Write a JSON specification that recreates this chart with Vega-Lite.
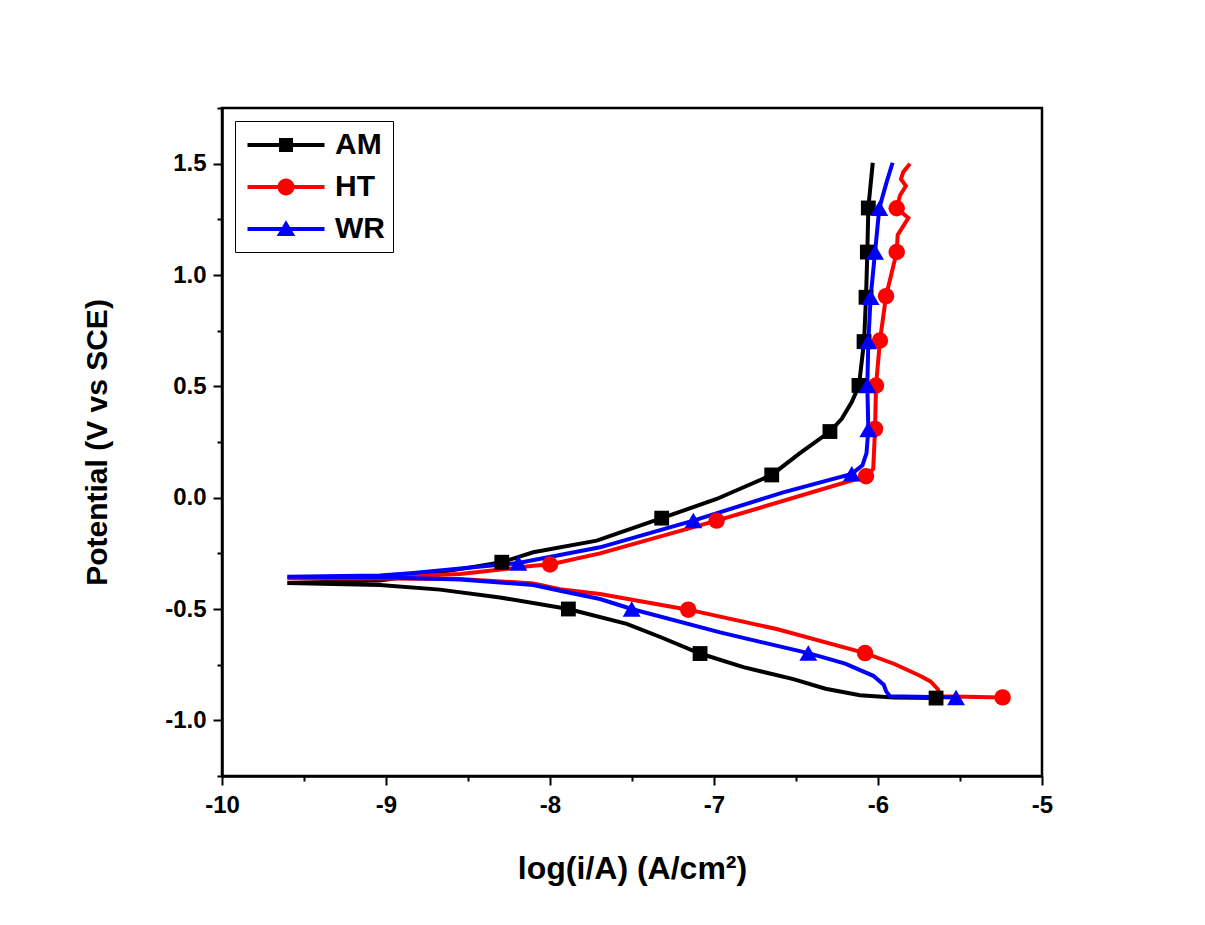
{
  "$schema": "https://vega.github.io/schema/vega-lite/v6.json",
  "width": 820,
  "height": 668,
  "autosize": "none",
  "padding": {"left": 222, "top": 108, "right": 163, "bottom": 149},
  "background": "white",
  "config": {
    "font": "Liberation Sans",
    "view": {"stroke": "black", "strokeWidth": 2.5},
    "axis": {
      "grid": false,
      "domainColor": "black",
      "domainWidth": 2.5,
      "tickColor": "black",
      "tickWidth": 2,
      "labelFont": "Liberation Sans",
      "labelFontSize": 24,
      "labelFontWeight": "bold",
      "labelColor": "black",
      "titleFont": "Liberation Sans",
      "titleFontWeight": "bold",
      "titleColor": "black",
      "labelFlush": false,
      "labelOverlap": false,
      "labelBound": false
    }
  },
  "datasets": {
    "curves": [
      {"series": "AM", "i": 0, "logi": -5.646, "E": -0.900},
      {"series": "AM", "i": 1, "logi": -5.907, "E": -0.897},
      {"series": "AM", "i": 2, "logi": -6.110, "E": -0.887},
      {"series": "AM", "i": 3, "logi": -6.320, "E": -0.858},
      {"series": "AM", "i": 4, "logi": -6.516, "E": -0.815},
      {"series": "AM", "i": 5, "logi": -6.821, "E": -0.761},
      {"series": "AM", "i": 6, "logi": -7.085, "E": -0.700},
      {"series": "AM", "i": 7, "logi": -7.320, "E": -0.628},
      {"series": "AM", "i": 8, "logi": -7.532, "E": -0.567},
      {"series": "AM", "i": 9, "logi": -7.888, "E": -0.500},
      {"series": "AM", "i": 10, "logi": -8.305, "E": -0.448},
      {"series": "AM", "i": 11, "logi": -8.671, "E": -0.413},
      {"series": "AM", "i": 12, "logi": -9.037, "E": -0.392},
      {"series": "AM", "i": 13, "logi": -9.602, "E": -0.383},
      {"series": "AM", "i": 14, "logi": -9.037, "E": -0.372},
      {"series": "AM", "i": 15, "logi": -8.549, "E": -0.321},
      {"series": "AM", "i": 16, "logi": -8.294, "E": -0.290},
      {"series": "AM", "i": 17, "logi": -8.102, "E": -0.245},
      {"series": "AM", "i": 18, "logi": -7.715, "E": -0.193},
      {"series": "AM", "i": 19, "logi": -7.319, "E": -0.092},
      {"series": "AM", "i": 20, "logi": -6.984, "E": -0.006},
      {"series": "AM", "i": 21, "logi": -6.648, "E": 0.102},
      {"series": "AM", "i": 22, "logi": -6.476, "E": 0.200},
      {"series": "AM", "i": 23, "logi": -6.293, "E": 0.297},
      {"series": "AM", "i": 24, "logi": -6.221, "E": 0.354},
      {"series": "AM", "i": 25, "logi": -6.160, "E": 0.429},
      {"series": "AM", "i": 26, "logi": -6.116, "E": 0.504},
      {"series": "AM", "i": 27, "logi": -6.085, "E": 0.701},
      {"series": "AM", "i": 28, "logi": -6.073, "E": 0.900},
      {"series": "AM", "i": 29, "logi": -6.065, "E": 1.103},
      {"series": "AM", "i": 30, "logi": -6.059, "E": 1.301},
      {"series": "AM", "i": 31, "logi": -6.032, "E": 1.504},
      {"series": "HT", "i": 0, "logi": -5.240, "E": -0.897},
      {"series": "HT", "i": 1, "logi": -5.622, "E": -0.892},
      {"series": "HT", "i": 2, "logi": -5.635, "E": -0.860},
      {"series": "HT", "i": 3, "logi": -5.680, "E": -0.825},
      {"series": "HT", "i": 4, "logi": -5.744, "E": -0.800},
      {"series": "HT", "i": 5, "logi": -5.900, "E": -0.747},
      {"series": "HT", "i": 6, "logi": -6.079, "E": -0.698},
      {"series": "HT", "i": 7, "logi": -6.618, "E": -0.590},
      {"series": "HT", "i": 8, "logi": -7.157, "E": -0.503},
      {"series": "HT", "i": 9, "logi": -7.695, "E": -0.433},
      {"series": "HT", "i": 10, "logi": -7.939, "E": -0.411},
      {"series": "HT", "i": 11, "logi": -8.102, "E": -0.385},
      {"series": "HT", "i": 12, "logi": -8.549, "E": -0.365},
      {"series": "HT", "i": 13, "logi": -9.037, "E": -0.363},
      {"series": "HT", "i": 14, "logi": -9.602, "E": -0.362},
      {"series": "HT", "i": 15, "logi": -9.037, "E": -0.358},
      {"series": "HT", "i": 16, "logi": -8.549, "E": -0.343},
      {"series": "HT", "i": 17, "logi": -8.102, "E": -0.306},
      {"series": "HT", "i": 18, "logi": -8.000, "E": -0.300},
      {"series": "HT", "i": 19, "logi": -7.695, "E": -0.250},
      {"series": "HT", "i": 20, "logi": -6.984, "E": -0.103},
      {"series": "HT", "i": 21, "logi": -6.073, "E": 0.096},
      {"series": "HT", "i": 22, "logi": -6.029, "E": 0.129},
      {"series": "HT", "i": 23, "logi": -6.018, "E": 0.309},
      {"series": "HT", "i": 24, "logi": -6.012, "E": 0.504},
      {"series": "HT", "i": 25, "logi": -5.988, "E": 0.706},
      {"series": "HT", "i": 26, "logi": -5.951, "E": 0.905},
      {"series": "HT", "i": 27, "logi": -5.886, "E": 1.103},
      {"series": "HT", "i": 28, "logi": -5.880, "E": 1.180},
      {"series": "HT", "i": 29, "logi": -5.815, "E": 1.256},
      {"series": "HT", "i": 30, "logi": -5.886, "E": 1.300},
      {"series": "HT", "i": 31, "logi": -5.866, "E": 1.357},
      {"series": "HT", "i": 32, "logi": -5.830, "E": 1.400},
      {"series": "HT", "i": 33, "logi": -5.860, "E": 1.430},
      {"series": "HT", "i": 34, "logi": -5.846, "E": 1.463},
      {"series": "HT", "i": 35, "logi": -5.805, "E": 1.500},
      {"series": "WR", "i": 0, "logi": -5.524, "E": -0.897},
      {"series": "WR", "i": 1, "logi": -5.927, "E": -0.892},
      {"series": "WR", "i": 2, "logi": -5.950, "E": -0.870},
      {"series": "WR", "i": 3, "logi": -5.965, "E": -0.840},
      {"series": "WR", "i": 4, "logi": -6.029, "E": -0.800},
      {"series": "WR", "i": 5, "logi": -6.200, "E": -0.745},
      {"series": "WR", "i": 6, "logi": -6.425, "E": -0.698},
      {"series": "WR", "i": 7, "logi": -6.963, "E": -0.605},
      {"series": "WR", "i": 8, "logi": -7.502, "E": -0.500},
      {"series": "WR", "i": 9, "logi": -7.695, "E": -0.455},
      {"series": "WR", "i": 10, "logi": -7.939, "E": -0.418},
      {"series": "WR", "i": 11, "logi": -8.102, "E": -0.392},
      {"series": "WR", "i": 12, "logi": -8.549, "E": -0.367},
      {"series": "WR", "i": 13, "logi": -9.037, "E": -0.357},
      {"series": "WR", "i": 14, "logi": -9.602, "E": -0.355},
      {"series": "WR", "i": 15, "logi": -9.037, "E": -0.350},
      {"series": "WR", "i": 16, "logi": -8.833, "E": -0.338},
      {"series": "WR", "i": 17, "logi": -8.193, "E": -0.293},
      {"series": "WR", "i": 18, "logi": -7.695, "E": -0.223},
      {"series": "WR", "i": 19, "logi": -7.126, "E": -0.103},
      {"series": "WR", "i": 20, "logi": -6.578, "E": 0.024},
      {"series": "WR", "i": 21, "logi": -6.160, "E": 0.107},
      {"series": "WR", "i": 22, "logi": -6.095, "E": 0.145},
      {"series": "WR", "i": 23, "logi": -6.070, "E": 0.200},
      {"series": "WR", "i": 24, "logi": -6.059, "E": 0.306},
      {"series": "WR", "i": 25, "logi": -6.065, "E": 0.504},
      {"series": "WR", "i": 26, "logi": -6.059, "E": 0.701},
      {"series": "WR", "i": 27, "logi": -6.045, "E": 0.900},
      {"series": "WR", "i": 28, "logi": -6.018, "E": 1.103},
      {"series": "WR", "i": 29, "logi": -5.992, "E": 1.300},
      {"series": "WR", "i": 30, "logi": -5.947, "E": 1.418},
      {"series": "WR", "i": 31, "logi": -5.911, "E": 1.504}
    ],
    "markers": [
      {"series": "AM", "logi": -5.646, "E": -0.900},
      {"series": "AM", "logi": -7.085, "E": -0.700},
      {"series": "AM", "logi": -7.888, "E": -0.500},
      {"series": "AM", "logi": -8.294, "E": -0.290},
      {"series": "AM", "logi": -7.319, "E": -0.092},
      {"series": "AM", "logi": -6.648, "E": 0.102},
      {"series": "AM", "logi": -6.293, "E": 0.297},
      {"series": "AM", "logi": -6.116, "E": 0.504},
      {"series": "AM", "logi": -6.085, "E": 0.701},
      {"series": "AM", "logi": -6.073, "E": 0.900},
      {"series": "AM", "logi": -6.065, "E": 1.103},
      {"series": "AM", "logi": -6.059, "E": 1.301},
      {"series": "HT", "logi": -5.240, "E": -0.897},
      {"series": "HT", "logi": -6.079, "E": -0.698},
      {"series": "HT", "logi": -7.157, "E": -0.503},
      {"series": "HT", "logi": -8.000, "E": -0.300},
      {"series": "HT", "logi": -6.984, "E": -0.103},
      {"series": "HT", "logi": -6.073, "E": 0.096},
      {"series": "HT", "logi": -6.018, "E": 0.309},
      {"series": "HT", "logi": -6.012, "E": 0.504},
      {"series": "HT", "logi": -5.988, "E": 0.706},
      {"series": "HT", "logi": -5.951, "E": 0.905},
      {"series": "HT", "logi": -5.886, "E": 1.103},
      {"series": "HT", "logi": -5.886, "E": 1.300},
      {"series": "WR", "logi": -5.524, "E": -0.897},
      {"series": "WR", "logi": -6.425, "E": -0.698},
      {"series": "WR", "logi": -7.502, "E": -0.500},
      {"series": "WR", "logi": -8.193, "E": -0.293},
      {"series": "WR", "logi": -7.126, "E": -0.103},
      {"series": "WR", "logi": -6.160, "E": 0.107},
      {"series": "WR", "logi": -6.059, "E": 0.306},
      {"series": "WR", "logi": -6.065, "E": 0.504},
      {"series": "WR", "logi": -6.059, "E": 0.701},
      {"series": "WR", "logi": -6.045, "E": 0.900},
      {"series": "WR", "logi": -6.018, "E": 1.103},
      {"series": "WR", "logi": -5.992, "E": 1.300}
    ]
  },
  "encoding": {
    "x": {
      "field": "logi",
      "type": "quantitative",
      "scale": {"domain": [-10, -5], "nice": false, "zero": false},
      "axis": {
        "title": "log(i/A) (A/cm²)",
        "values": [-10, -9.5, -9, -8.5, -8, -7.5, -7, -6.5, -6, -5.5, -5],
        "labelExpr": "datum.value % 1 === 0 ? '' + datum.value : ''",
        "tickSize": {"condition": {"test": "datum.value % 1 === 0", "value": 9}, "value": 5},
        "labelPadding": 8,
        "titleFontSize": 32,
        "titlePadding": 36
      }
    },
    "y": {
      "field": "E",
      "type": "quantitative",
      "scale": {"domain": [-1.25, 1.75], "nice": false, "zero": false},
      "axis": {
        "title": "Potential (V vs SCE)",
        "values": [-1.25, -1, -0.75, -0.5, -0.25, 0, 0.25, 0.5, 0.75, 1, 1.25, 1.5, 1.75],
        "labelExpr": "datum.value % 0.5 === 0 ? replace(format(datum.value, '.1f'), '−', '-') : ''",
        "tickSize": {"condition": {"test": "datum.value % 0.5 === 0", "value": 9}, "value": 5},
        "labelPadding": 7,
        "titleFontSize": 30,
        "titlePadding": 52
      }
    },
    "color": {
      "field": "series",
      "type": "nominal",
      "scale": {"domain": ["AM", "HT", "WR"], "range": ["#000000", "#ff0000", "#0000ff"]},
      "legend": null
    }
  },
  "resolve": {"scale": {"shape": "independent", "size": "independent"}, "legend": {"color": "independent", "shape": "independent"}},
  "layer": [
    {
      "data": {"name": "curves"},
      "mark": {"type": "line", "strokeWidth": 4},
      "encoding": {"order": {"field": "i", "type": "quantitative"}}
    },
    {
      "data": {"name": "markers"},
      "mark": {"type": "point", "filled": true, "opacity": 1},
      "encoding": {
        "shape": {"field": "series", "type": "nominal", "scale": {"domain": ["AM", "HT", "WR"], "range": ["square", "circle", "triangle-up"]}, "legend": null},
        "size": {"field": "series", "type": "nominal", "scale": {"domain": ["AM", "HT", "WR"], "range": [220, 320, 300]}, "legend": null}
      }
    },
    {
      "data": {"name": "markers"},
      "transform": [{"filter": "datum.E > 100"}],
      "mark": {"type": "point", "filled": true, "opacity": 1, "size": 900},
      "encoding": {
        "color": {
          "field": "series",
          "type": "nominal",
          "scale": {"domain": ["AM", "HT", "WR"], "range": ["#000000", "#ff0000", "#0000ff"]},
          "legend": {
            "title": null,
            "orient": "top-left",
            "offset": 13,
            "padding": 8,
            "strokeColor": "black",
            "fillColor": "white",
            "labelFont": "Liberation Sans",
            "labelFontSize": 30,
            "labelFontWeight": "bold",
            "labelColor": "black",
            "symbolSize": 900,
            "symbolOffset": 27,
            "labelOffset": 33,
            "rowPadding": 11
          }
        },
        "shape": {
          "field": "series",
          "type": "nominal",
          "scale": {"domain": ["AM", "HT", "WR"], "range": [
            "M-2.567,-0.133H2.567V0.133H-2.567Z M-0.467,-0.467H0.467V0.467H-0.467Z",
            "M-2.567,-0.133H2.567V0.133H-2.567Z M0.567,0A0.567,0.567 0 1,1 -0.567,0A0.567,0.567 0 1,1 0.567,0Z",
            "M-2.567,-0.133H2.567V0.133H-2.567Z M0,-0.58L0.62,0.46H-0.62Z"
          ]},
          "legend": {
            "title": null,
            "orient": "top-left",
            "offset": 13,
            "padding": 8,
            "strokeColor": "black",
            "fillColor": "white",
            "labelFont": "Liberation Sans",
            "labelFontSize": 30,
            "labelFontWeight": "bold",
            "labelColor": "black",
            "symbolSize": 900,
            "symbolOffset": 27,
            "labelOffset": 33,
            "rowPadding": 11
          }
        }
      }
    }
  ]
}
